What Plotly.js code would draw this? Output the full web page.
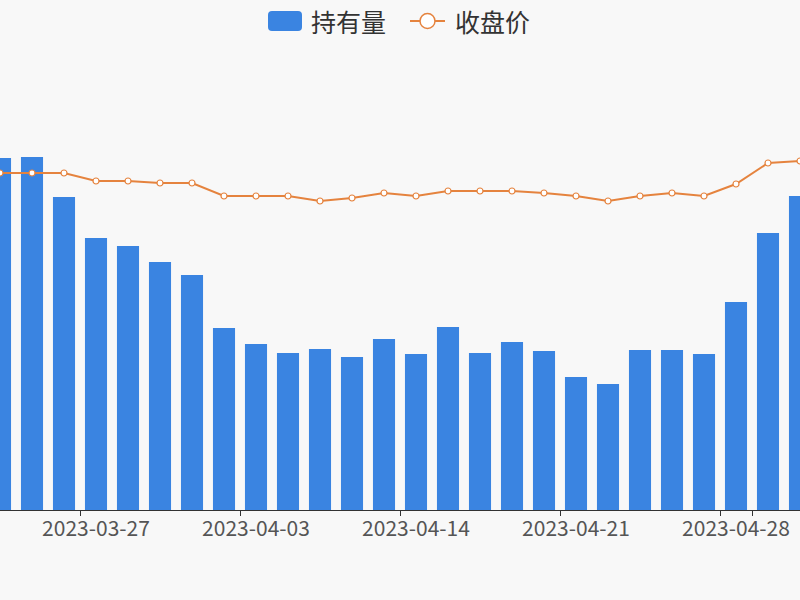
<!DOCTYPE html>
<html>
<head>
<meta charset="utf-8">
<script src="https://cdn.plot.ly/plotly-3.0.1.min.js"></script>
<style>
  html, body { margin: 0; padding: 0; background: #f8f8f8; }
  #chart { width: 800px; height: 600px; }
</style>
</head>
<body>
<div id="chart"></div>
<script>
// trading days shown in the crop
var dates = ['2023-03-22', '2023-03-23', '2023-03-24', '2023-03-27', '2023-03-28',
  '2023-03-29', '2023-03-30', '2023-03-31', '2023-04-03', '2023-04-04',
  '2023-04-06', '2023-04-11', '2023-04-13', '2023-04-14', '2023-04-17',
  '2023-04-18', '2023-04-19', '2023-04-20', '2023-04-21', '2023-04-24',
  '2023-04-25', '2023-04-26', '2023-04-27', '2023-04-28', '2023-05-04',
  '2023-05-05'];

// holdings (bars)
var holdings = [704, 706, 626, 544, 528, 496, 470, 364, 332, 314,
  322, 306, 342, 312, 366, 314, 336, 318, 266, 252,
  320, 320, 312, 416, 554, 628];

// close price (line)
var closePrice = [33.7, 33.7, 33.7, 32.9, 32.9, 32.7, 32.7, 31.4, 31.4, 31.4,
  30.9, 31.2, 31.7, 31.4, 31.9, 31.9, 31.9, 31.7, 31.4, 30.9,
  31.4, 31.7, 31.4, 32.6, 34.7, 34.9];

var tickDates = ['2023-03-27', '2023-04-03', '2023-04-14', '2023-04-21', '2023-04-28'];

var barName = '持有量';
var lineName = '收盘价';
var barColor = '#3a84e1';
var lineColor = '#e5833e';

var bars = {
  x: dates,
  y: holdings,
  name: barName,
  type: 'bar',
  marker: { color: barColor }
};

var line = {
  x: dates,
  y: closePrice,
  name: lineName,
  type: 'scatter',
  mode: 'lines+markers',
  yaxis: 'y2',
  line: { color: lineColor, width: 2 },
  marker: { color: '#ffffff', size: 6, line: { color: lineColor, width: 1.2 } }
};

// hand-drawn legend (echarts style: big rounded swatch, line with ring)
// paper coords cover the plot area: x 0..800, y 60..510 px
function px(x) { return x / 800; }
function py(y) { return (510 - y) / 450; }

var legendShapes = [
  {
    type: 'path', xref: 'paper', yref: 'paper',
    path: 'M ' + px(272) + ',' + py(11) + ' L ' + px(298) + ',' + py(11) +
      ' Q ' + px(302) + ',' + py(11) + ' ' + px(302) + ',' + py(15) +
      ' L ' + px(302) + ',' + py(27) +
      ' Q ' + px(302) + ',' + py(31) + ' ' + px(298) + ',' + py(31) +
      ' L ' + px(272) + ',' + py(31) +
      ' Q ' + px(268) + ',' + py(31) + ' ' + px(268) + ',' + py(27) +
      ' L ' + px(268) + ',' + py(15) +
      ' Q ' + px(268) + ',' + py(11) + ' ' + px(272) + ',' + py(11) + ' Z',
    fillcolor: barColor, line: { width: 0 }
  },
  {
    type: 'line', xref: 'paper', yref: 'paper',
    x0: px(410), x1: px(445), y0: py(21), y1: py(21),
    line: { color: lineColor, width: 2 }
  },
  {
    type: 'circle', xref: 'paper', yref: 'paper',
    x0: px(420), x1: px(435), y0: py(13.5), y1: py(28.5),
    fillcolor: '#ffffff', line: { color: lineColor, width: 1.5 }
  }
];

var legendTexts = [
  { text: barName, x: px(309), y: py(21) },
  { text: lineName, x: px(453), y: py(21) }
].map(function (a) {
  return {
    text: a.text, x: a.x, y: a.y, xref: 'paper', yref: 'paper',
    xanchor: 'left', yanchor: 'middle', showarrow: false,
    font: { size: 25, color: '#333' }
  };
});

var layout = {
  width: 800,
  height: 600,
  margin: { l: 0, r: 0, t: 60, b: 90, autoexpand: false },
  paper_bgcolor: '#f8f8f8',
  plot_bgcolor: '#f8f8f8',
  font: { family: '"Noto Sans CJK SC", "Noto Sans", sans-serif', color: '#555' },
  bargap: 0.31,
  showlegend: false,
  shapes: legendShapes,
  annotations: legendTexts,
  xaxis: {
    type: 'category',
    range: [0, 25],
    tickmode: 'array',
    tickvals: tickDates,
    ticktext: tickDates,
    tickson: 'boundaries',
    tickangle: 0,
    ticks: 'outside',
    ticklen: 5,
    tickcolor: '#333',
    showline: true,
    linecolor: '#333',
    linewidth: 1,
    showgrid: false,
    zeroline: false,
    automargin: false,
    tickfont: { size: 21, color: '#555' }
  },
  yaxis: {
    range: [0, 900],
    visible: false,
    showgrid: false,
    zeroline: false
  },
  yaxis2: {
    range: [0, 45],
    overlaying: 'y',
    side: 'right',
    visible: false,
    showgrid: false,
    zeroline: false
  }
};

Plotly.newPlot('chart', [bars, line], layout, { displayModeBar: false });
</script>
</body>
</html>
